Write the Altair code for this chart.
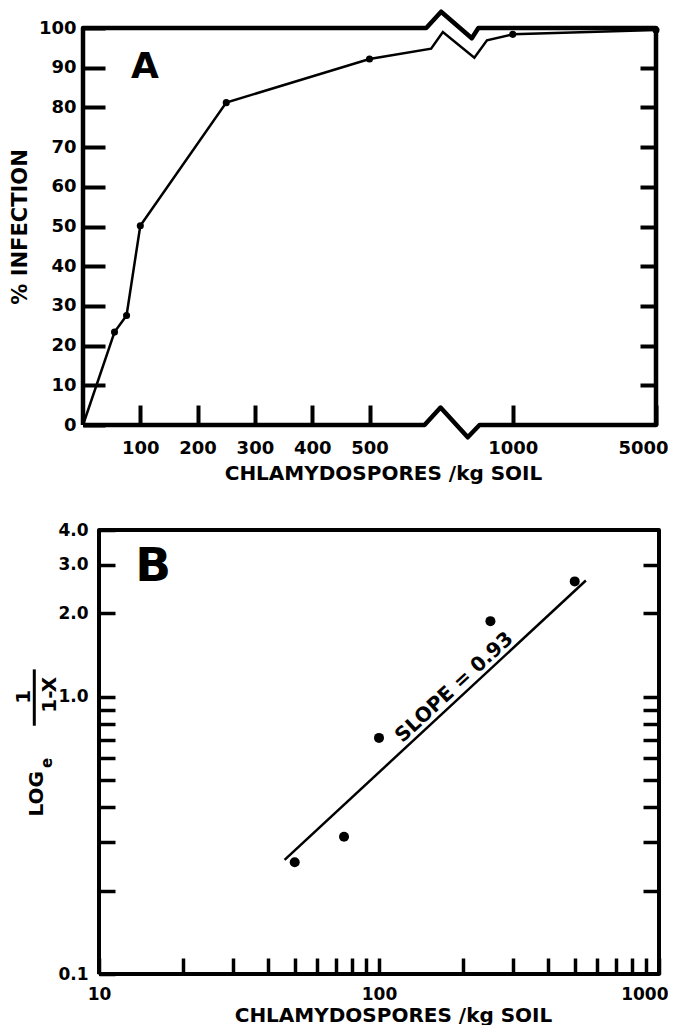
import altair as alt
import pandas as pd

FONT = "DejaVu Sans"
INK = "black"

# ---------------- Panel A : % infection vs chlamydospores ----------------
a_spores = [0, 55, 76, 100, 250, 500, 1000, 5000]
a_infection = [0, 23.4, 27.6, 50.2, 81.2, 92.2, 98.4, 99.5]
a_has_marker = [False, True, True, True, True, True, True, True]
# vertices of the curve where it follows the axis break (between 500 and 1000)
a_break_spores = [715, 756, 866, 910]
a_break_infection = [94.8, 99.0, 92.5, 96.9]
# closed outline of the panel A frame, with its zig-zag axis breaks
a_frame_spores = [0, 692, 748, 843, 884, 5000, 5000, 880, 857, 750, 698, 0, 0]
a_frame_infection = [0, 0, 4.4, -3.1, 0, 0, 100, 100, 97.4, 104.1, 100, 100, 0]
# broken x axis: spore counts at the break points and the axis units they sit at
a_x_breaks = [0, 500, 1000, 5000]
a_x_break_units = [0, 500, 750, 1000]
a_x_ticks = [100, 200, 300, 400, 500, 1000, 5000]
a_y_ticks = [0, 10, 20, 30, 40, 50, 60, 70, 80, 90, 100]
a_y_ticks_right = [10, 20, 30, 40, 50, 60, 70, 80, 90]
a_letter = ["A"]
a_letter_spores = [108]
a_letter_infection = [87.3]

# ---------------- Panel B : log_e 1/(1-x) vs chlamydospores (log-log) ----------------
b_spores = [50, 75, 100, 250, 500]
b_loge = [0.253, 0.313, 0.711, 1.876, 2.61]
b_fit_spores = [46, 548]
b_fit_loge = [0.258, 2.63]
b_frame_spores = [10, 1000, 1000, 10, 10]
b_frame_loge = [0.1, 0.1, 4.0, 4.0, 0.1]
b_x_ticks = [10, 20, 30, 40, 50, 60, 70, 80, 90, 100, 200, 300, 400, 500, 600, 700, 800, 900, 1000]
b_y_ticks = [0.1, 0.2, 0.3, 0.4, 0.5, 0.6, 0.7, 0.8, 0.9, 1.0, 2.0, 3.0, 4.0]
b_y_ticks_right = [0.2, 0.3, 0.4, 0.5, 0.6, 0.7, 0.8, 0.9, 1.0, 2.0, 3.0]
b_letter = ["B"]
b_letter_spores = [15.6]
b_letter_loge = [2.61]
slope_text = ["SLOPE = 0.93"]
slope_spores = [197.5]
slope_loge = [1.012]

A_W, A_H = 573, 397
B_W, B_H = 576, 444
B_INSET = 16  # px between the panel-B plot origin and its frame (panel B frame sits right of panel A's)


# ---------------- broken-axis mapping for panel A ----------------
def to_units(s):
    for i in range(1, len(a_x_breaks)):
        if s <= a_x_breaks[i] or i == len(a_x_breaks) - 1:
            s0, s1 = a_x_breaks[i - 1], a_x_breaks[i]
            u0, u1 = a_x_break_units[i - 1], a_x_break_units[i]
            return u0 + (s - s0) * (u1 - u0) / (s1 - s0)


def units_expr(field):
    expr = None
    n = len(a_x_breaks)
    for i in range(n - 1, 0, -1):
        s0, s1 = a_x_breaks[i - 1], a_x_breaks[i]
        u0, u1 = a_x_break_units[i - 1], a_x_break_units[i]
        k = (u1 - u0) / (s1 - s0)
        piece = f"({u0} + ({field} - {s0}) * {k})"
        expr = piece if expr is None else f"({field} <= {s1} ? {piece} : {expr})"
    return expr


U_EXPR = units_expr("datum.s")
a_tick_units = [to_units(s) for s in a_x_ticks]
a_label_expr = " : ".join(
    [f"datum.value == {u} ? '{s}'" for u, s in zip(a_tick_units, a_x_ticks)]) + " : ''"

# ---------------- tables ----------------
df_a_curve = pd.DataFrame({"s": a_spores + a_break_spores, "p": a_infection + a_break_infection}).sort_values("s")
df_a_pts = pd.DataFrame({"s": a_spores, "p": a_infection, "m": a_has_marker})
df_a_pts = df_a_pts[df_a_pts["m"]]
df_a_frame = pd.DataFrame({"s": a_frame_spores, "p": a_frame_infection, "i": list(range(len(a_frame_spores)))})
df_a_letter = pd.DataFrame({"s": a_letter_spores, "p": a_letter_infection, "t": a_letter})

df_b_pts = pd.DataFrame({"s": b_spores, "v": b_loge})
df_b_fit = pd.DataFrame({"s": b_fit_spores, "v": b_fit_loge})
df_b_frame = pd.DataFrame({"s": b_frame_spores, "v": b_frame_loge, "i": list(range(len(b_frame_spores)))})
df_b_letter = pd.DataFrame({"s": b_letter_spores, "v": b_letter_loge, "t": b_letter})
df_slope = pd.DataFrame({"s": slope_spores, "v": slope_loge, "t": slope_text})

# ---------------- scales ----------------
a_xscale = alt.Scale(domain=[0, a_x_break_units[-1]], nice=False, zero=False)
a_yscale = alt.Scale(domain=[0, 100], nice=False, zero=False)
b_decades = 2.0  # 10 .. 1000
b_lo = 10 ** (1 - b_decades * B_INSET / (B_W - B_INSET))
b_xscale = alt.Scale(type="log", domain=[b_lo, 1000], nice=False)
b_yscale = alt.Scale(type="log", domain=[0.1, 4.0], nice=False)

lab = dict(labelFont=FONT, labelFontWeight="bold", labelColor=INK, labelOverlap=False)
ttl = dict(titleFont=FONT, titleFontWeight="bold", titleColor=INK)

a_x_axis = alt.Axis(values=a_tick_units, labelExpr=a_label_expr, orient="bottom", offset=-20, tickSize=20,
                    tickWidth=4, tickColor=INK, domain=False, grid=False, labelPadding=14, labelFontSize=18,
                    labelFlush=True, labelFlushOffset=12,
                    title="CHLAMYDOSPORES /kg SOIL", titleFontSize=20, titleX=300, titlePadding=6,
                    titleAlign="center", **lab, **ttl)
a_y_axis = alt.Axis(values=a_y_ticks, format="d", orient="left", offset=-22, tickSize=22, tickWidth=4,
                    tickColor=INK, domain=False, grid=False, labelPadding=7, labelFontSize=18, labelFlush=False,
                    title="% INFECTION", titleFontSize=21, titleX=-85, titleY=A_H / 2, titleAngle=270,
                    titleAlign="center", titleBaseline="middle", **lab, **ttl)
a_y_axis_r = alt.Axis(values=a_y_ticks_right, orient="right", offset=-16, tickSize=16, tickWidth=4,
                      tickColor=INK, domain=False, grid=False, labels=False, title="")

b_x_axis = alt.Axis(values=b_x_ticks, orient="bottom", offset=-16, tickSize=16, tickWidth=3.5,
                    tickColor=INK, domain=False, grid=False, labelPadding=12, labelFontSize=17,
                    labelFlush=True, labelFlushOffset=9,
                    labelExpr="datum.value == 10 || datum.value == 100 || datum.value == 1000 ? format(datum.value, 'd') : ''",
                    title="CHLAMYDOSPORES /kg SOIL", titleFontSize=20, titleX=310, titlePadding=3,
                    titleAlign="center", **lab, **ttl)
b_y_axis = alt.Axis(values=b_y_ticks, orient="left", offset=-(B_INSET + 16), tickSize=16, tickWidth=3.5,
                    tickColor=INK, domain=False, grid=False, labelPadding=11, labelFontSize=17, labelFlush=False,
                    labelExpr="datum.value < 0.15 || datum.value > 0.95 ? format(datum.value, '.1f') : ''",
                    title="", **lab)
b_y_axis_r = alt.Axis(values=b_y_ticks_right, orient="right", offset=-16, tickSize=16, tickWidth=3.5,
                      tickColor=INK, domain=False, grid=False, labels=False, title="")

# every layer carries the same (shared) x axis, so the merged axis is never disabled
AX = alt.X("u:Q", scale=a_xscale, axis=a_x_axis)
BX = alt.X("s:Q", scale=b_xscale, axis=b_x_axis)


def a_base(df):
    return alt.Chart(df).transform_calculate(u=U_EXPR)


# ---------------- Panel A ----------------
frame_a = a_base(df_a_frame).mark_line(color=INK, strokeWidth=4.5, strokeJoin="round").encode(
    x=AX, y=alt.Y("p:Q", scale=a_yscale, axis=a_y_axis_r), order=alt.Order("i:Q"),
)
curve_a = a_base(df_a_curve).mark_line(color=INK, strokeWidth=2.5).encode(
    x=AX, y=alt.Y("p:Q", scale=a_yscale, axis=a_y_axis),
)
pts_a = a_base(df_a_pts).mark_circle(color=INK, size=50, opacity=1).encode(
    x=AX, y=alt.Y("p:Q", scale=a_yscale, axis=None),
)
letter_a = a_base(df_a_letter).mark_text(font=FONT, fontSize=36, fontWeight="bold", color=INK,
                                         align="center", baseline="alphabetic").encode(
    x=AX, y=alt.Y("p:Q", scale=a_yscale, axis=None), text="t:N",
)
panel_a = alt.layer(frame_a, curve_a, pts_a, letter_a).resolve_axis(y="independent").properties(width=A_W, height=A_H)

# ---------------- Panel B ----------------
frame_b = alt.Chart(df_b_frame).mark_line(color=INK, strokeWidth=4, strokeJoin="round").encode(
    x=BX, y=alt.Y("v:Q", scale=b_yscale, axis=b_y_axis_r), order=alt.Order("i:Q"),
)
fit_b = alt.Chart(df_b_fit).mark_line(color=INK, strokeWidth=2.5).encode(
    x=BX, y=alt.Y("v:Q", scale=b_yscale, axis=None),
)
pts_b = alt.Chart(df_b_pts).mark_circle(color=INK, size=100, opacity=1).encode(
    x=BX, y=alt.Y("v:Q", scale=b_yscale, axis=b_y_axis),
)
letter_b = alt.Chart(df_b_letter).mark_text(font=FONT, fontSize=47, fontWeight="bold", color=INK,
                                            align="center", baseline="alphabetic").encode(
    x=BX, y=alt.Y("v:Q", scale=b_yscale, axis=None), text="t:N",
)
slope_b = alt.Chart(df_slope).mark_text(font=FONT, fontSize=20, fontWeight="bold", color=INK,
                                        align="center", baseline="middle", angle=317.3, dy=-11).encode(
    x=BX, y=alt.Y("v:Q", scale=b_yscale, axis=None), text="t:N",
)


# y-axis title of panel B: LOG_e 1/(1-X), drawn rotated
def rot_text(s, size, x, y):
    return alt.Chart(pd.DataFrame({"t": [s]})).mark_text(
        font=FONT, fontSize=size, fontWeight="bold", color=INK, angle=270,
        align="center", baseline="middle").encode(text="t:N", x=alt.value(x), y=alt.value(y))


k = B_H / 446.0
t_log = rot_text("LOG", 20, -46.5, 265 * k)
t_e = rot_text("e", 15, -36, 234 * k)
t_num = rot_text("1", 20, -58.7, 167.6 * k)
t_den = rot_text("1-X", 20, -33.2, 165.5 * k)
t_bar = alt.Chart(pd.DataFrame({"t": ["bar"]})).mark_rule(color=INK, strokeWidth=3).encode(
    x=alt.value(-48.7), y=alt.value(140 * k), y2=alt.value(196.6 * k))

panel_b = alt.layer(frame_b, fit_b, pts_b, letter_b, slope_b, t_log, t_e, t_num, t_den, t_bar).resolve_axis(
    y="independent").properties(width=B_W, height=B_H)

chart = alt.vconcat(panel_a, panel_b, spacing=38).properties(
    padding={"left": 1, "top": 1, "right": 0, "bottom": 0}
).configure_view(strokeWidth=0)

chart.save("out.html", embed_options={"renderer": "svg", "actions": False})
